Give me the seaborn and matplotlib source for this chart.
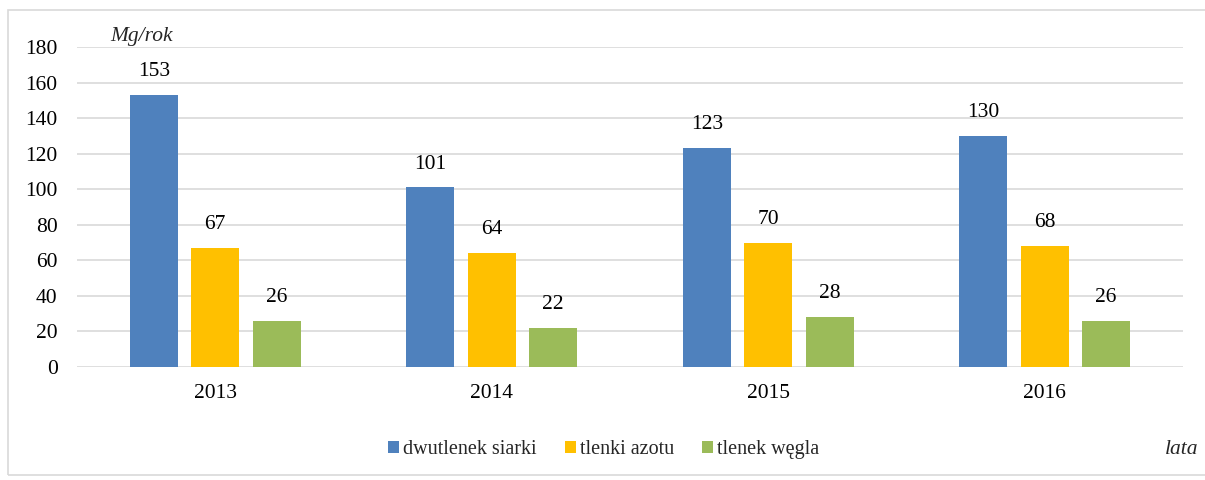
import matplotlib
matplotlib.use("Agg")
import matplotlib.pyplot as plt
import seaborn as sns
import pandas as pd
from matplotlib.patches import Rectangle, Patch

years = ["2013", "2014", "2015", "2016"]
series = ["dwutlenek siarki", "tlenki azotu", "tlenek węgla"]
so2 = [153, 101, 123, 130]
nox = [67, 64, 70, 68]
co = [26, 22, 28, 26]
colors = ["#4f81bd", "#ffc000", "#9bbb59"]

rows = []
for name, vals in zip(series, [so2, nox, co]):
    for y, v in zip(years, vals):
        rows.append({"rok": y, "seria": name, "wartosc": v})
df = pd.DataFrame(rows)

sns.set_theme(style="white")
plt.rcParams["font.family"] = ["Liberation Serif", "DejaVu Serif"]

fig = plt.figure(figsize=(12.05, 4.8), dpi=100)
ax = fig.add_axes([0.0639, 0.2354, 0.9178, 0.6666])

sns.barplot(data=df, x="rok", y="wartosc", hue="seria", palette=colors,
            width=0.666, ax=ax, legend=False, saturation=1, linewidth=0,
            edgecolor="none")

# shrink bars to leave gaps
for p in ax.patches:
    w = p.get_width()
    cx = p.get_x() + w / 2
    nw = 0.174
    p.set_x(cx - nw / 2)
    p.set_width(nw)

for c in ax.containers:
    ax.bar_label(c, padding=10, fontsize=15.5, color="#000000")

ax.set_ylim(0, 180)
ax.set_xlim(-0.5, 3.5)
ax.set_yticks(range(0, 181, 20))
ax.yaxis.grid(True, color="#d9d9d9", linewidth=1.2)
ax.set_axisbelow(True)
for s in ax.spines.values():
    s.set_visible(False)
ax.tick_params(axis="y", labelsize=15.5, colors="#000000", length=0, pad=14)
ax.tick_params(axis="x", labelsize=15.5, colors="#000000", length=0, pad=12)
ax.set_xlabel("")
ax.set_ylabel("")

fig.text(0.1178, 0.924, "Mg/rok", fontsize=15.5, style="italic", ha="center", va="center")
fig.text(0.981, 0.063, "lata", fontsize=15.5, style="italic", ha="center", va="center")

handles = [Patch(facecolor=c, edgecolor="none") for c in colors]
fig.legend(handles, series, loc="center", bbox_to_anchor=(0.501, 0.063), ncol=3,
           frameon=False, fontsize=14.5, handlelength=0.55, handleheight=0.55,
           handletextpad=0.2, columnspacing=1.4)

fig.patches.append(Rectangle((0.0066, 0.01), 1.2, 0.969, transform=fig.transFigure,
                             fill=False, edgecolor="#d9d9d9", linewidth=1.2))

fig.savefig("out.png", dpi=100)
